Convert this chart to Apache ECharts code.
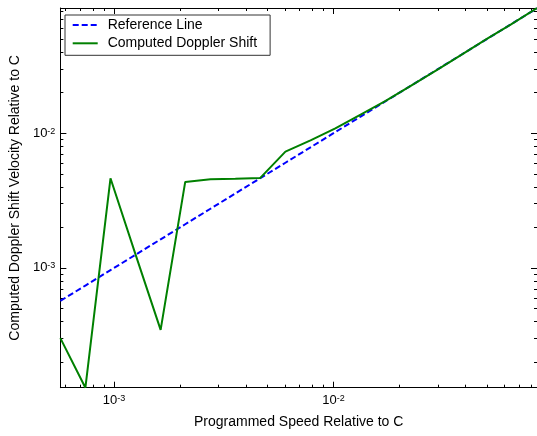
<!DOCTYPE html>
<html><head><meta charset="utf-8">
<script src="https://cdn.jsdelivr.net/npm/echarts@6/dist/echarts.min.js"></script>
<style>html,body{margin:0;padding:0;background:#fff}#c{width:537px;height:436px}</style>
</head><body><div id="c"></div>
<script>
// Programmed speed (relative to c) — x values of both curves
const speeds = [5.69e-4, 7.40e-4, 9.63e-4, 1.25e-3, 1.63e-3, 2.11e-3, 2.75e-3, 3.57e-3, 4.64e-3, 6.04e-3,
                7.86e-3, 1.02e-2, 1.33e-2, 1.73e-2, 2.25e-2, 2.93e-2, 3.81e-2, 4.96e-2, 6.45e-2, 8.47e-2];
// Reference line (y = x)
const referenceLine = [5.69e-4, 7.40e-4, 9.63e-4, 1.25e-3, 1.63e-3, 2.11e-3, 2.75e-3, 3.57e-3, 4.64e-3, 6.04e-3,
                       7.86e-3, 1.02e-2, 1.33e-2, 1.73e-2, 2.25e-2, 2.93e-2, 3.81e-2, 4.96e-2, 6.45e-2, 8.47e-2];
// Computed Doppler shift velocity (relative to c)
const dopplerShift = [3.01e-4, 1.29e-4, 4.63e-3, 1.27e-3, 3.47e-4, 4.35e-3, 4.55e-3, 4.59e-3, 4.66e-3, 7.30e-3,
                      8.84e-3, 1.086e-2, 1.377e-2, 1.74e-2, 2.25e-2, 2.92e-2, 3.80e-2, 4.97e-2, 6.44e-2, 8.51e-2];
const majorTicks = [1e-3, 1e-2];
const xMinorTicks = [6e-4, 7e-4, 8e-4, 9e-4, 2e-3, 3e-3, 4e-3, 5e-3, 6e-3, 7e-3, 8e-3, 9e-3,
                     2e-2, 3e-2, 4e-2, 5e-2, 6e-2, 7e-2, 8e-2];
const yMinorTicks = [2e-4, 3e-4, 4e-4, 5e-4, 6e-4, 7e-4, 8e-4, 9e-4, 2e-3, 3e-3, 4e-3, 5e-3, 6e-3, 7e-3, 8e-3, 9e-3,
                     2e-2, 3e-2, 4e-2, 5e-2, 6e-2, 7e-2, 8e-2];
const xRange = [5.69e-4, 8.47e-2];
const yRange = [1.29e-4, 8.51e-2];

const FONT = 'Liberation Sans, Arial, sans-serif';
const richLabel = {
  b: { fontSize: 13, lineHeight: 13, padding: [4, 0, 4, 0], color: '#000', fontFamily: FONT },
  s: { fontSize: 9, lineHeight: 9, verticalAlign: 'top', color: '#000', fontFamily: FONT }
};
function powLabel(v) {
  return '{b|10}{s|' + Math.round(Math.log10(v)) + '}';
}
function makeAxis(dim, position, ticks, len, withLine, withLabel, extra) {
  const range = dim === 'x' ? xRange : yRange;
  return Object.assign({
    type: 'log', logBase: 10, position: position, gridIndex: 0,
    min: range[0], max: range[1],
    axisLine: { show: withLine, onZero: false, lineStyle: { color: '#000', width: 1 } },
    axisTick: { show: true, inside: true, length: len, customValues: ticks, lineStyle: { color: '#000', width: 1 } },
    axisLabel: withLabel ? {
      show: true, customValues: majorTicks, formatter: powLabel, rich: richLabel,
      margin: dim === 'x' ? 6 : 5
    } : { show: false },
    splitLine: { show: false }, minorTick: { show: false }, minorSplitLine: { show: false }
  }, extra || {});
}

const chart = echarts.init(document.getElementById('c'), null, { renderer: 'canvas' });
chart.setOption({
  animation: false,
  backgroundColor: '#fff',
  textStyle: { fontFamily: FONT },
  grid: { left: 58, top: 8, width: 479.5, height: 379.7, containLabel: false },
  xAxis: [
    makeAxis('x', 'bottom', majorTicks, 6, true, true, {
      name: 'Programmed Speed Relative to C', nameLocation: 'middle', nameGap: 27,
      nameTextStyle: { fontSize: 14, color: '#000', fontFamily: FONT }
    }),
    makeAxis('x', 'bottom', xMinorTicks, 3, false, false),
    makeAxis('x', 'top', majorTicks, 6, true, false),
    makeAxis('x', 'top', xMinorTicks, 3, false, false)
  ],
  yAxis: [
    makeAxis('y', 'left', majorTicks, 6, true, true, {
      name: 'Computed Doppler Shift Velocity Relative to C', nameLocation: 'middle', nameGap: 35,
      nameTextStyle: { fontSize: 14, color: '#000', fontFamily: FONT }
    }),
    makeAxis('y', 'left', yMinorTicks, 3, false, false),
    makeAxis('y', 'right', majorTicks, 6, true, false),
    makeAxis('y', 'right', yMinorTicks, 3, false, false)
  ],
  legend: {
    orient: 'vertical', left: 65, top: 15,
    itemWidth: 25, itemHeight: 14, itemGap: 4.3,
    padding: [3, 13, 5, 6.7],
    borderColor: '#333', borderWidth: 1, backgroundColor: '#fff',
    itemStyle: { color: 'rgba(0,0,0,0)', borderWidth: 0, opacity: 0 },
    textStyle: { fontSize: 14, color: '#000', fontFamily: FONT, padding: [0, 0, 0, 5] },
    data: ['Reference Line', 'Computed Doppler Shift']
  },
  series: [
    {
      name: 'Reference Line', type: 'line', xAxisIndex: 0, yAxisIndex: 0,
      data: speeds.map((x, i) => [x, referenceLine[i]]),
      symbol: 'none', lineStyle: { color: '#0000ff', width: 2, type: [6, 3] },
      itemStyle: { color: '#0000ff' }, z: 2
    },
    {
      name: 'Computed Doppler Shift', type: 'line', xAxisIndex: 0, yAxisIndex: 0,
      data: speeds.map((x, i) => [x, dopplerShift[i]]),
      symbol: 'none', lineStyle: { color: '#008000', width: 2 },
      itemStyle: { color: '#008000' }, z: 3
    }
  ]
});
</script></body></html>
